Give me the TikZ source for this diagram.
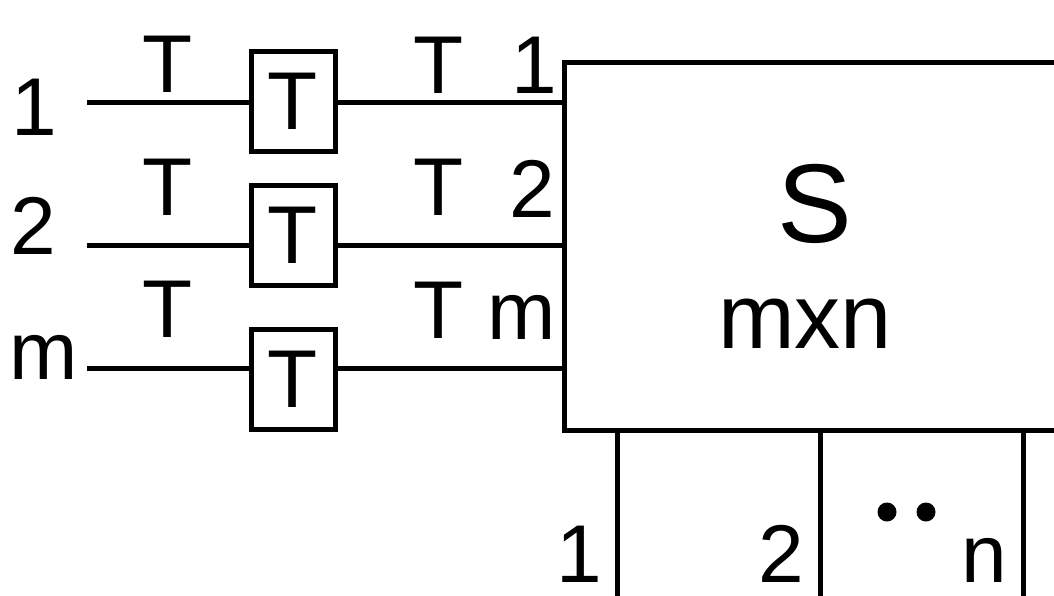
\documentclass[tikz,border=0pt]{standalone}
\usepackage{fontspec}
\setmainfont{Liberation Sans}
\begin{document}
\begin{tikzpicture}[x=1pt,y=-1pt, line width=5pt,
  lbl/.style={font=\fontsize{82}{90}\selectfont, inner sep=0pt, anchor=base},
  tbox/.style={draw, rectangle, minimum width=84pt, minimum height=100pt, inner sep=0pt, font=\fontsize{82}{90}\selectfont},
  swbox/.style={draw, rectangle, minimum width=506pt, minimum height=368pt, inner sep=0pt},
  dotnode/.style={circle, fill, draw=none, inner sep=0pt, minimum size=19pt}]
\useasboundingbox (0,0) rectangle (1054,595);
\clip (0,0) rectangle (1054,595);

% switch
\node[swbox] (S) at (817,246) {};
\node[font=\fontsize{112}{120}\selectfont, inner sep=0pt, anchor=base] (Slbl) at (815,242) {S};
\node[font=\fontsize{92}{100}\selectfont, inner sep=0pt, anchor=base] (dim) at (805,348) {mxn};

% delay boxes
\node[tbox] (b1) at (293,101) {T};
\node[tbox] (b2) at (293,235) {T};
\node[tbox] (b3) at (293,379) {T};

% input wires
\coordinate (i1) at (87,102);
\coordinate (i2) at (87,245);
\coordinate (i3) at (87,368);
\draw (i1) -- (i1 -| b1.west);
\draw (b1.east |- i1) -- (i1 -| S.west);
\draw (i2) -- (i2 -| b2.west);
\draw (b2.east |- i2) -- (i2 -| S.west);
\draw (i3) -- (i3 -| b3.west);
\draw (b3.east |- i3) -- (i3 -| S.west);

% input labels
\node[lbl] (n1) at (34,135) {1};
\node[lbl] (n2) at (33,254) {2};
\node[lbl] (nm) at (44,379) {m};
\node[lbl] (ta1) at (168,92) {T};
\node[lbl] (ta2) at (168,215) {T};
\node[lbl] (ta3) at (168,337) {T};
\node[lbl] (tb1) at (439,93) {T};
\node[lbl] (tb2) at (439,215) {T};
\node[lbl] (tb3) at (439,338) {T};
\node[lbl] (k1) at (534,93) {1};
\node[lbl] (k2) at (532,217) {2};
\node[lbl] (km) at (522,339) {m};

% output wires
\coordinate (o1) at (617,600);
\coordinate (o2) at (820,600);
\coordinate (o3) at (1023,600);
\draw (o1 |- S.south) -- (o1);
\draw (o2 |- S.south) -- (o2);
\draw (o3 |- S.south) -- (o3);

% output labels
\node[lbl] (p1) at (579,582) {1};
\node[lbl] (p2) at (781,582) {2};
\node[lbl] (pn) at (984,582) {n};
\node[dotnode] (d1) at (887,512) {};
\node[dotnode] (d2) at (926,512) {};
\end{tikzpicture}
\end{document}
